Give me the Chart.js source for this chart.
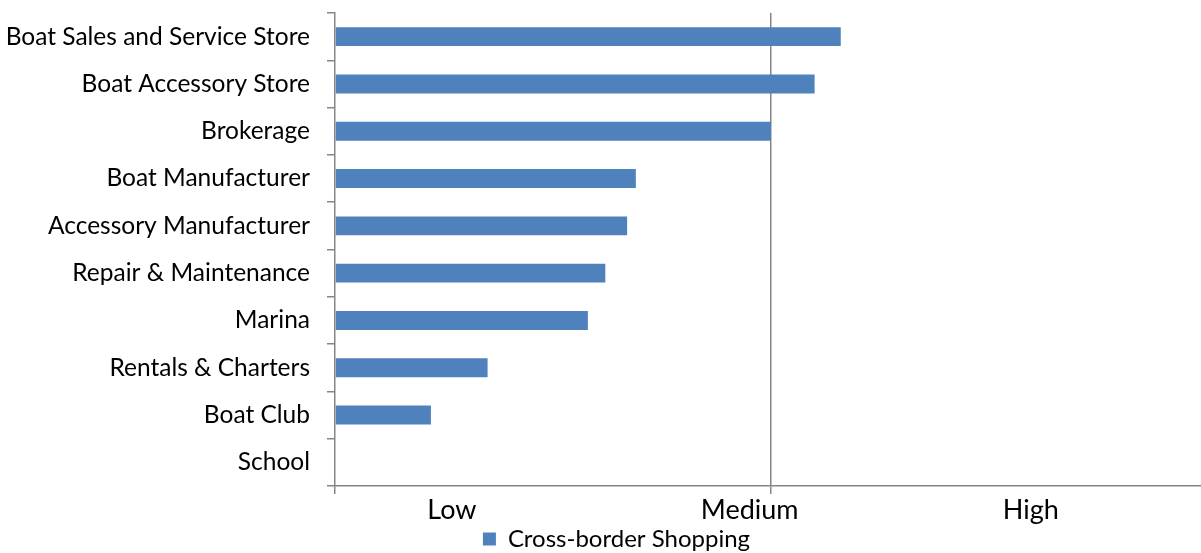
<!DOCTYPE html>
<html>
<head>
<meta charset="utf-8">
<script src="https://cdn.jsdelivr.net/npm/chart.js@4"></script>
<style>
  html,body{margin:0;padding:0;background:#fff;overflow:hidden;}
  #wrap{width:1207px;height:553px;}
</style>
</head>
<body>
<div id="wrap"><canvas id="chart"></canvas></div>
<script>
// categories and scores (0 = none, 1 = medium, 2 = high)
const categories=['Boat Sales and Service Store','Boat Accessory Store','Brokerage','Boat Manufacturer',
  'Accessory Manufacturer','Repair & Maintenance','Marina','Rentals & Charters','Boat Club','School'];
const shopping=[1.16,1.10,1.0,0.69,0.67,0.62,0.58,0.35,0.22,0];
const levelLabels=['Low','Medium','High'];
const levelPositions=[0.268,0.951,1.596];

const axisGray='#868686';
const font='Lato, "Open Sans", sans-serif';

Chart.defaults.font.family=font;
Chart.defaults.color='#000';

// legend sits a bit right of the canvas centre in the original
const legendShift={
  id:'legendShift',
  afterLayout(chart){
    chart.legend.left+=13;
    chart.legend.right+=13;
  }
};

new Chart(document.getElementById('chart').getContext('2d'),{
  type:'bar',
  data:{
    labels:categories,
    datasets:[{
      label:'Cross-border Shopping',
      data:shopping,
      backgroundColor:'#4f81bd',
      barPercentage:0.4,
      categoryPercentage:1
    }]
  },
  plugins:[legendShift],
  options:{
    indexAxis:'y',
    responsive:true,
    maintainAspectRatio:false,
    animation:false,
    layout:{padding:{left:0,top:13,right:0,bottom:-8}},
    plugins:{
      legend:{
        position:'bottom',
        labels:{font:{size:24,lineHeight:1},boxWidth:13,boxHeight:13,padding:2,color:'#000'}
      },
      tooltip:{enabled:false}
    },
    scales:{
      x:{
        min:0,max:2,
        afterFit:s=>{s.height=8;},
        ticks:{display:false,stepSize:1},
        grid:{
          color:c=>c.tick&&c.tick.value===1?axisGray:'rgba(0,0,0,0)',
          tickColor:c=>c.tick&&c.tick.value===2?'rgba(0,0,0,0)':axisGray,
          tickLength:8,lineWidth:1.5
        },
        border:{color:axisGray,width:1.5}
      },
      x2:{
        type:'linear',position:'bottom',min:0,max:2,
        afterFit:s=>{s.height=31;s.paddingLeft=0;s.paddingRight=0;},
        grid:{display:false,drawTicks:false},border:{display:false},
        afterBuildTicks:a=>{a.ticks=levelPositions.map(v=>({value:v}));},
        ticks:{autoSkip:false,maxRotation:0,padding:3,font:{size:27,lineHeight:1},color:'#000',
          callback:(v,i)=>levelLabels[i]}
      },
      y:{
        afterFit:s=>{s.width=335;s.paddingTop=0;s.paddingBottom=0;},
        ticks:{font:{size:24.5},color:'#000',padding:17},
        grid:{drawOnChartArea:false,tickLength:8,color:axisGray,lineWidth:1.5},
        border:{color:axisGray,width:1.5}
      }
    }
  }
});
</script>
</body>
</html>
